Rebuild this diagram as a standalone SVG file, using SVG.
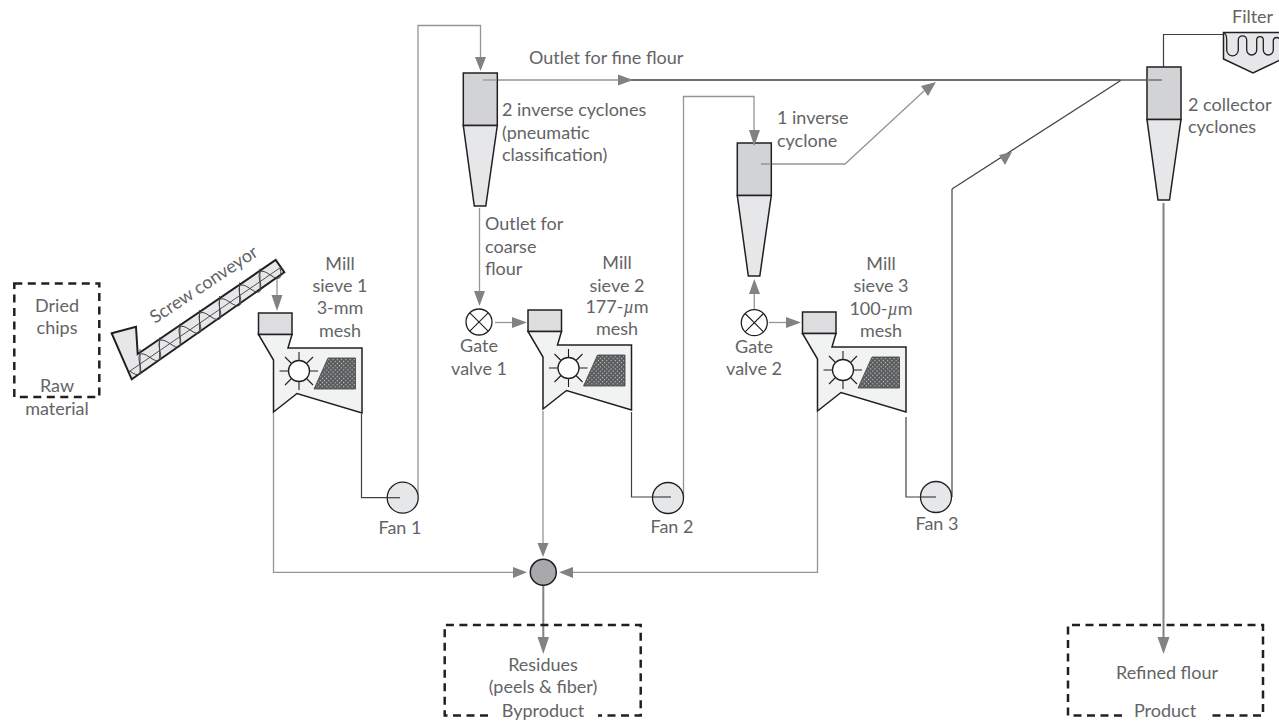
<svg xmlns="http://www.w3.org/2000/svg" width="1279" height="722" viewBox="0 0 1279 722">
<style>
text{font-family:"Lato","Noto Sans",sans-serif;font-size:18px;fill:#636466}
.m{text-anchor:middle}
.o{stroke:#231f20;stroke-width:1.5;stroke-linejoin:miter}
.dark{fill:#d1d3d4}.lite{fill:#e6e7e8}.pale{fill:#f1f2f2}
.c{fill:none;stroke:#939598;stroke-width:1.3}
.k{fill:none;stroke:#414042;stroke-width:1.2}
.t{fill:none;stroke:#808285;stroke-width:2}
.dash{fill:none;stroke:#231f20;stroke-width:2.5;stroke-dasharray:8 5.5}
.thin{fill:none;stroke:#231f20;stroke-width:1.1}
.s{fill:none;stroke:#414042;stroke-width:.9}
.a{fill:#808285}
</style>
<defs>
<pattern id="mesh" width="3" height="3" patternUnits="userSpaceOnUse" patternTransform="rotate(45)"><rect width="3" height="3" fill="#58595b"/><rect width="1.2" height="1.2" fill="#c8c9cb"/></pattern>
<g id="mill">
<rect class="o" x="258.5" y="313" width="33.5" height="21.5" style="fill:#dcddde"/>
<path class="o pale" d="M258.5 334.5H292L288 348H362V413L297 393.5L273.5 412V360Z"/>
<path class="thin" d="M299 352V360.500M299 381.500V390M279.500 371H288.500M309.500 371H318M285 357L292 364M306 378L313 385M313 357L306 364M292 378L285 385"/>
<circle cx="299" cy="371" r="10.500" fill="#fff" stroke="#231f20" stroke-width="1.300"/>
<path d="M328 358H355.500V389H314Z" fill="url(#mesh)" stroke="#414042" stroke-width=".8"/>
</g>
<g id="cyclone">
<rect x="0" y="0" width="34" height="52.500" class="o dark"/>
<path class="o lite" d="M0 52.500H34L22.500 133H11Z"/>
</g>
<g id="fan"><circle r="15.500" class="lite" stroke="#231f20" stroke-width="1.300"/></g>
<g id="valve"><circle r="13" fill="#fff" stroke="#231f20" stroke-width="1.300"/><path class="thin" d="M-9.200 -9.200L9.200 9.200M9.200 -9.200L-9.200 9.200"/></g>
</defs>

<g id="connectors">
<path class="k" d="M361.500 414V497.700H402"/>
<path class="c" d="M418 497V25.500H480.500V60"/>
<path class="c" d="M483 80H622"/><path class="k" style="stroke-width:1.500" d="M630 80H1120"/>
<path class="c" style="stroke-width:1.800;stroke:#808285" d="M1120 80H1162"/>
<path class="c" d="M479.500 208V292"/>
<path class="c" d="M495 322.500H514"/>
<path class="k" d="M631.500 412V497H668"/>
<path class="c" d="M683.500 497V96.500H754V134"/>
<path class="c" d="M761 164H845L924 91"/>
<path class="c" d="M754.300 309V290"/>
<path class="c" d="M769 322.500H790"/>
<path class="k" d="M906 417V497H936"/>
<path class="c" style="stroke-width:1.800;stroke:#808285" d="M952 497V189"/>
<path class="k" d="M952 189L1120.700 80.500"/>
<path class="k" d="M1163.500 67V34.500H1223"/>
<path class="t" d="M1163.500 203V640"/>
<path class="c" d="M273.500 413V572.300H516"/>
<path class="c" d="M277 279V296"/>
<path class="c" d="M543 411V546"/>
<path class="c" d="M817.500 412V572.300H570"/>
<path class="t" d="M543.300 585V640"/>
<path class="a" d="M480.500 71L475 57H486ZM633 80L618 74.500V85.500ZM479.500 306L474 291H485ZM527 322.500L512 317V328Z"/>
<path class="a" d="M277 311L271.500 295H282.500ZM754.300 279L749 294H760ZM801 322.500L786 317V328ZM936 82L921 86L928 96ZM1012 152L999 155L1005 165Z"/>
<path class="a" d="M543 557L537.500 543H548.500ZM527 572.300L513 567V578ZM559 572.300L573 567V578ZM543.300 654L537.500 637H549ZM1163.500 654L1157.500 637H1169.500Z"/>
</g>

<g id="raw-material">
<path class="dash" d="M14.300 283.500H99.300V397H14.300Z"/>
<text class="m" x="57" y="312">Dried</text><text class="m" x="57" y="334">chips</text>
<text class="m" x="57" y="392">Raw</text><text class="m" x="57" y="415">material</text>
</g>

<g id="screw-conveyor">
<path class="o lite" style="stroke-width:2" d="M111.700 333.300L136 326.700L137.700 354L275.700 260L284.300 272.300L131.700 379.300Z"/>
<path class="s" d="M129 371.700L281.700 266.700M140 349V373.500M159.500 337.500V360M180 323.500V345.500M199.500 310V332M219.500 296V318M239.500 282.500V304M260 268.500V290"/>
<path class="s" transform="translate(129 371.700) rotate(-34.500)" d="M1 0Q7 16 13.150 0T25.300 0T37.450 0T49.600 0T61.750 0T73.900 0T86.050 0T98.200 0T110.350 0T122.500 0T134.650 0T146.800 0T158.950 0T171.100 0T183.250 0"/>
<text transform="translate(155 324) rotate(-33.500)">Screw conveyor</text>
</g>

<g id="mill-1"><use href="#mill"/>
<text class="m" x="340" y="270">Mill</text><text class="m" x="340" y="292">sieve 1</text><text class="m" x="340" y="314">3-mm</text><text class="m" x="340" y="337">mesh</text></g>
<g id="mill-2"><use href="#mill" transform="translate(269.500 -3)"/>
<text class="m" x="617" y="269">Mill</text><text class="m" x="617" y="292">sieve 2</text><text class="m" x="617" y="313">177-<tspan font-family="Liberation Serif" font-style="italic">µ</tspan>m</text><text class="m" x="617" y="335">mesh</text></g>
<g id="mill-3"><use href="#mill" transform="translate(544 -1)"/>
<text class="m" x="881" y="270">Mill</text><text class="m" x="881" y="292">sieve 3</text><text class="m" x="881" y="315">100-<tspan font-family="Liberation Serif" font-style="italic">µ</tspan>m</text><text class="m" x="881" y="337">mesh</text></g>

<g id="fan-1"><use href="#fan" x="402.700" y="497.700"/><path class="k" d="M388 497.700H400"/><text class="m" x="400" y="534">Fan 1</text></g>
<g id="fan-2"><use href="#fan" x="668" y="498"/><path class="k" d="M653 497H671"/><text class="m" x="672" y="533">Fan 2</text></g>
<g id="fan-3"><use href="#fan" x="936" y="497"/><path class="k" d="M921 497H936"/><text class="m" x="937" y="530">Fan 3</text></g>

<g id="gate-valve-1"><use href="#valve" x="479" y="322"/><text class="m" x="479" y="352">Gate</text><text class="m" x="479" y="375">valve 1</text></g>
<g id="gate-valve-2"><use href="#valve" x="754.300" y="322.700"/><text class="m" x="754" y="353">Gate</text><text class="m" x="754" y="375">valve 2</text></g>

<g id="inverse-cyclones"><use href="#cyclone" x="463.300" y="73"/><path class="c" d="M483 80H497"/>
<text x="502" y="116">2 inverse cyclones</text><text x="502" y="139">(pneumatic</text><text x="502" y="161">classification)</text>
<text x="529" y="64">Outlet for fine flour</text>
<text x="485" y="230">Outlet for</text><text x="485" y="253">coarse</text><text x="485" y="275">flour</text></g>
<g id="inverse-cyclone"><use href="#cyclone" x="737.300" y="143"/><path class="c" d="M761 164H771M754 134V145"/><path class="a" d="M754.300 146L749 130H760Z"/>
<text x="777" y="124">1 inverse</text><text x="777" y="147">cyclone</text></g>
<g id="collector-cyclones"><use href="#cyclone" x="1147" y="67"/><path class="c" style="stroke-width:1.800;stroke:#808285" d="M1147 80H1162"/>
<text x="1188" y="111">2 collector</text><text x="1188" y="133">cyclones</text></g>

<g id="filter"><path class="o lite" d="M1223.500 32.500H1280V60L1253 73L1223.500 59Z"/>
<path class="thin" style="stroke-width:1.300" d="M1224 33Q1226.700 34 1226.700 40V50A5.800 5.800 0 0 0 1238.300 50V40A4.200 4.200 0 0 1 1246.700 40V50A5 5 0 0 0 1256.700 50V40A3.300 3.300 0 0 1 1263.300 40V50A5 5 0 0 0 1273.300 50V40A3.500 3.500 0 0 1 1280 40"/>
<text x="1232" y="23">Filter</text></g>

<g id="junction"><circle cx="543.300" cy="572.300" r="13" fill="#a7a9ac" stroke="#231f20" stroke-width="1.500"/></g>

<g id="byproduct">
<path class="dash" d="M488 715.500H444.700V625H640.700V715.500H598"/>
<text class="m" x="543" y="671">Residues</text><text class="m" x="543" y="693">(peels &amp; fiber)</text><text class="m" x="543" y="717">Byproduct</text></g>
<g id="product">
<path class="dash" d="M1122 715.500H1068V625H1263V715.500H1207"/>
<text class="m" x="1167" y="679">Refined flour</text><text class="m" x="1165" y="717">Product</text></g>
</svg>
